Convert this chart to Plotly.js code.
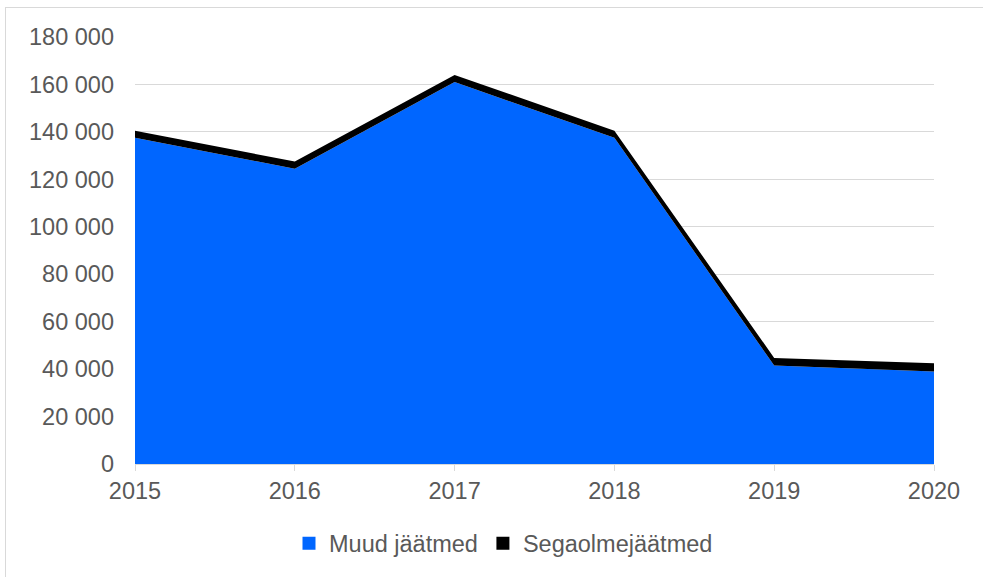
<!DOCTYPE html>
<html>
<head>
<meta charset="utf-8">
<script src="https://cdn.plot.ly/plotly-3.0.1.min.js"></script>
<style>
  html, body { margin: 0; padding: 0; background: #ffffff; }
  #frame { position: absolute; left: 5px; top: 7px; width: 990px; height: 590px; border: 1px solid #d9d9d9; box-sizing: border-box; }
  #chart { position: absolute; left: 0; top: 0; width: 983px; height: 577px; }
</style>
</head>
<body>
<div id="frame"></div>
<div id="chart"></div>
<script>
const years = [2015, 2016, 2017, 2018, 2019, 2020];
const muudJaatmed = [137500, 124500, 161000, 137500, 41500, 39000];
const segaolmejaatmed = [3000, 3000, 3000, 3000, 3200, 3500];
const seriesNames = ['Muud jäätmed', 'Segaolmejäätmed'];
const seriesColors = ['#0066ff', '#000000'];
const yTicks = [0, 20000, 40000, 60000, 80000, 100000, 120000, 140000, 160000, 180000];

const font = 'Liberation Sans, Arial, sans-serif';
const fs = 23.5;

const traces = [
  {
    x: years, y: muudJaatmed, name: seriesNames[0], type: 'scatter', mode: 'none',
    stackgroup: 'one', fillcolor: seriesColors[0], line: { width: 0 }, showlegend: false
  },
  {
    x: years, y: segaolmejaatmed, name: seriesNames[1], type: 'scatter', mode: 'none',
    stackgroup: 'one', fillcolor: seriesColors[1], line: { width: 0 }, showlegend: false
  },
  // legend entries (square keys, as in the original)
  {
    x: [null], y: [null], name: seriesNames[0], type: 'scatter', mode: 'markers',
    marker: { symbol: 'square', size: 13, color: seriesColors[0] }, showlegend: true
  },
  {
    x: [null], y: [null], name: seriesNames[1], type: 'scatter', mode: 'markers',
    marker: { symbol: 'square', size: 13, color: seriesColors[1] }, showlegend: true
  }
];

const layout = {
  width: 983, height: 577,
  margin: { l: 135, r: 49, t: 37, b: 111 },
  paper_bgcolor: 'rgba(0,0,0,0)',
  plot_bgcolor: 'rgba(0,0,0,0)',
  separators: ', ',
  font: { family: font, size: fs, color: '#595959' },
  xaxis: {
    range: [2015, 2020], tickvals: years, ticktext: years.map(String),
    showgrid: false, zeroline: false, showline: true, linecolor: '#d9d9d9', linewidth: 1,
    ticks: 'outside', ticklen: 6, tickcolor: '#d9d9d9', tickwidth: 1,
    tickfont: { family: font, size: fs, color: '#595959' }
  },
  yaxis: {
    range: [0, 180000], tickvals: yTicks, tickformat: ',d',
    showgrid: true, gridcolor: '#d9d9d9', gridwidth: 1, zeroline: false, showline: false,
    ticks: '', ticklabelstandoff: 20,
    tickfont: { family: font, size: fs, color: '#595959' }
  },
  showlegend: true,
  legend: {
    orientation: 'h', x: 0.4612, xanchor: 'center', y: -0.186, yanchor: 'middle',
    font: { family: font, size: fs, color: '#595959' }, traceorder: 'normal',
    itemwidth: 30, bgcolor: 'rgba(0,0,0,0)'
  }
};

Plotly.newPlot('chart', traces, layout, { displayModeBar: false, staticPlot: true });
</script>
</body>
</html>
